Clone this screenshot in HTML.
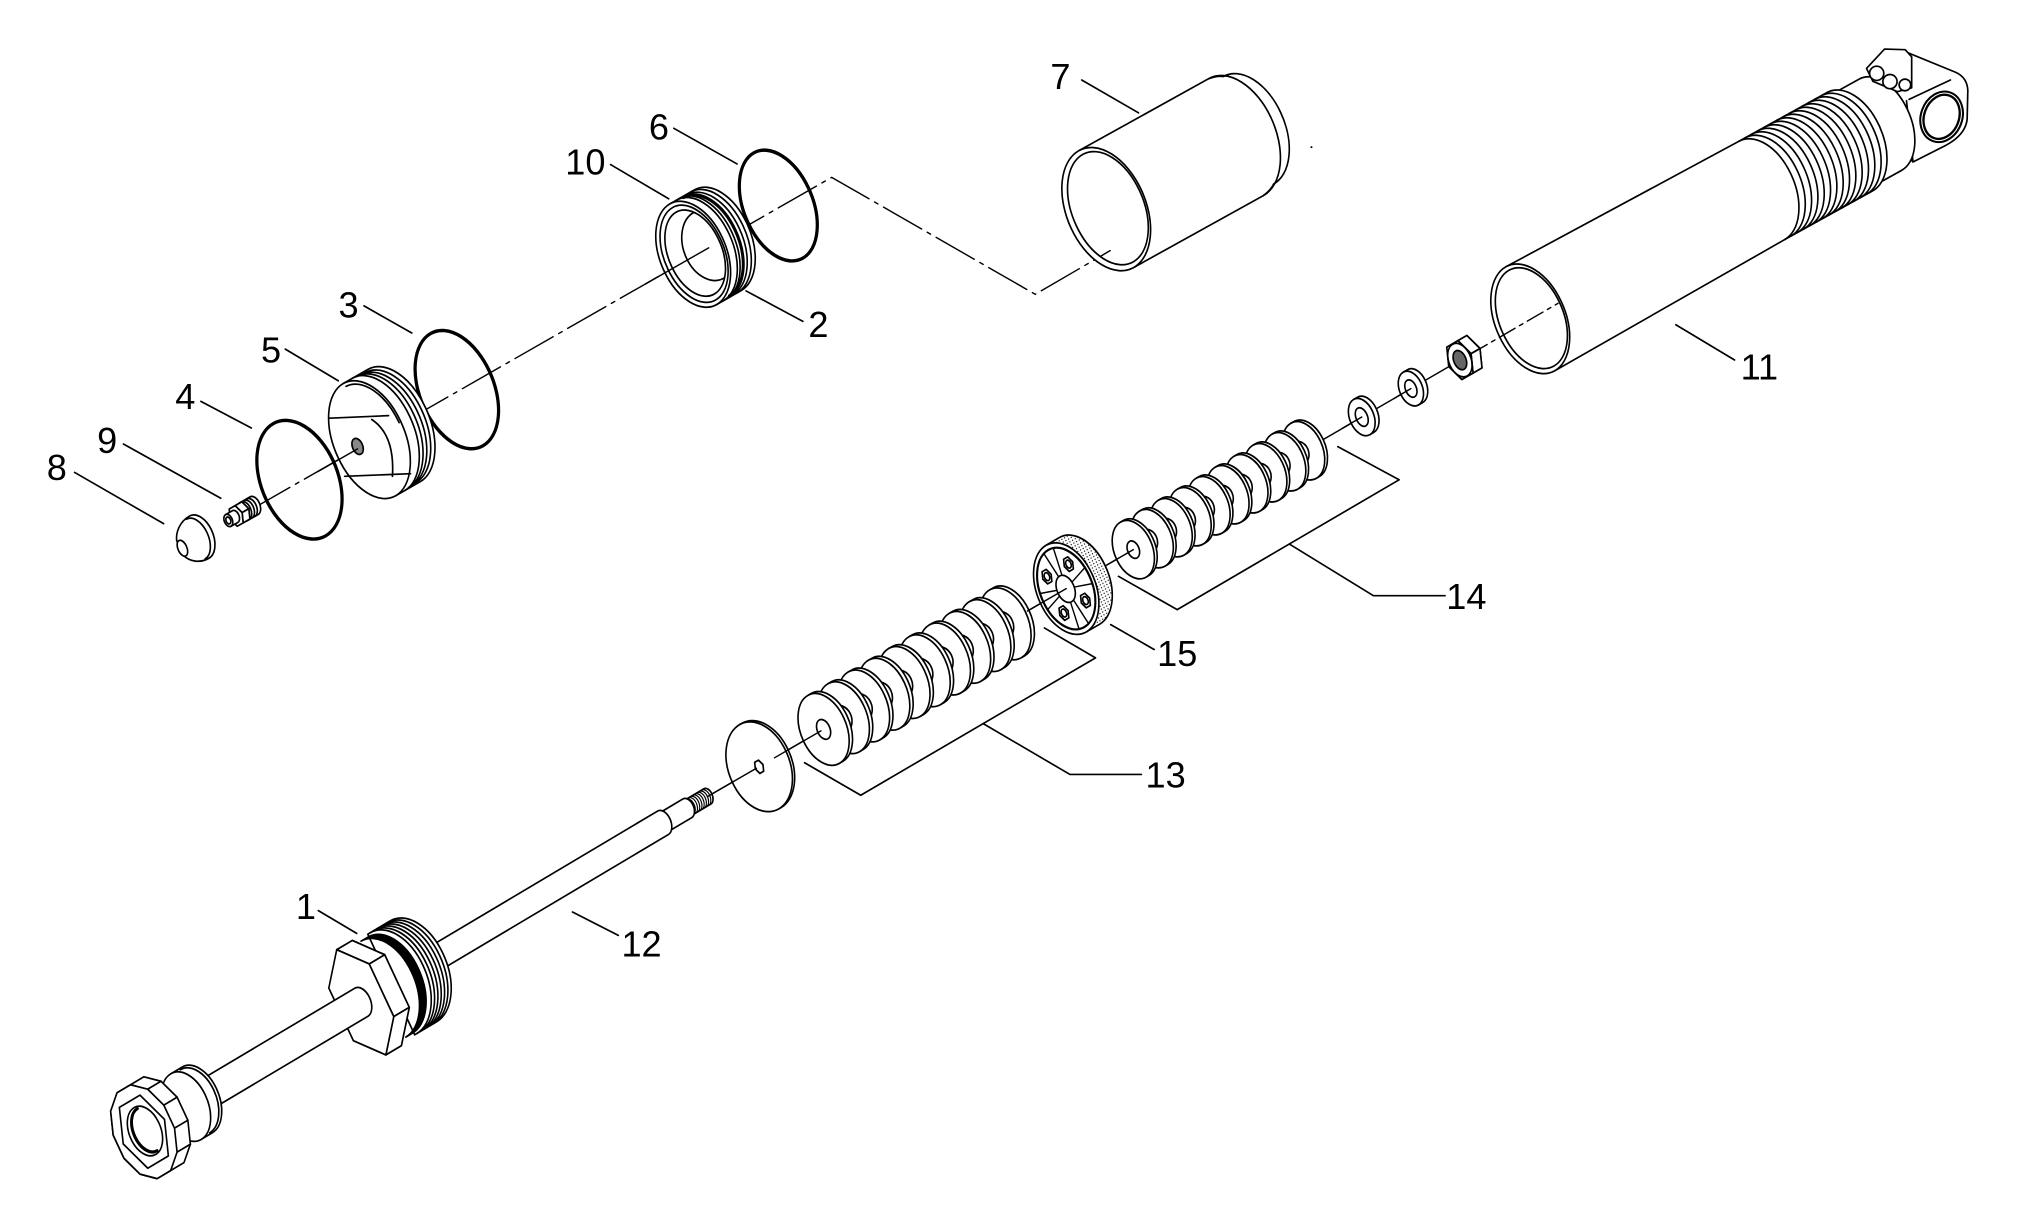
<!DOCTYPE html>
<html><head><meta charset="utf-8"><style>
html,body{margin:0;padding:0;background:#fff;}
svg{display:block;}
text{font-family:"Liberation Sans",Arial,sans-serif;font-size:28px;fill:#000;stroke:none;}
</style></head><body>
<svg width="2024" height="1223" viewBox="0 0 1568 947.5" xmlns="http://www.w3.org/2000/svg">
<defs>
<pattern id="dots" width="2.4" height="2.4" patternUnits="userSpaceOnUse"><rect width="2.4" height="2.4" fill="#fff"/><circle cx="1.2" cy="1.2" r="0.5" fill="#000"/></pattern>
</defs>
<rect width="1568" height="947.5" fill="#fff"/>
<g fill="none" stroke="#000" stroke-width="1.3" stroke-linejoin="round" stroke-linecap="round">

<!-- axis lines -->
<path d="M195,394.5 L644.3,137.4 L802,228 L851,199.5" stroke-width="1.1" stroke-dasharray="34 5 3 5"/>
<path d="M548,617.2 L1131,279.1" stroke-width="1.1"/>

<!-- ===== UPPER ASSEMBLY ===== -->
<g transform="matrix(0.8678,-0.4969,0.423,0.906,537,197)">
  <ellipse cx="76" cy="0" rx="27" ry="45" stroke-width="2.6"/>
  <path d="M0,-43 L22,-43 A26,43 0 0 1 22,43 L0,43 Z" fill="#fff"/>
  <path d="M6,-43 A26,43 0 0 1 6,43 M8.5,-43 A26,43 0 0 1 8.5,43 M15,-42.5 A26,42.5 0 0 1 15,42.5 M18.5,-43 A26,43 0 0 1 18.5,43"/>
  <path d="M12,-42 A25.5,42 0 0 1 12,42" stroke-width="2.4"/>
  <ellipse cx="0" cy="0" rx="26" ry="43" fill="#fff"/>
  <ellipse cx="0.8" cy="0" rx="23.5" ry="39.5"/>
  <ellipse cx="1.8" cy="0" rx="21" ry="35" fill="#fff"/>
  <path d="M14,-28 A20,28 0 0 0 14,28"/>
  <ellipse cx="-211" cy="0" rx="29" ry="48" stroke-width="2.6"/>
  <path d="M-289,-48 L-267,-48 A28,48 0 0 1 -267,48 L-289,48 Z" fill="#fff"/>
  <path d="M-281,-48 A28,48 0 0 1 -281,48 M-277.5,-47.5 A28,47.5 0 0 1 -277.5,47.5 M-274,-47 A28,47 0 0 1 -274,47 M-270.5,-47 A28,47 0 0 1 -270.5,47"/>
  <ellipse cx="-289" cy="0" rx="28" ry="48" fill="#fff"/>
  <path d="M-288,-45 A26,45 0 0 1 -262.5,0"/>
  <ellipse cx="-299.6" cy="0" rx="4" ry="6.5" fill="#888"/>
  <ellipse cx="-351.5" cy="0" rx="30" ry="48" stroke-width="2.6"/>
  <path d="M-402,-7.5 L-392,-7.5 A4.6,7.5 0 0 1 -392,7.5 L-402,7.5 Z" fill="#fff"/>
  <path d="M-400,-7.5 A4.6,7.5 0 0 1 -400,7.5 M-397.5,-7.5 A4.6,7.5 0 0 1 -397.5,7.5 M-395,-7.5 A4.6,7.5 0 0 1 -395,7.5"/>
  <polygon points="-396.7,0 -399.35,7.36 -404.65,7.36 -407.3,0 -404.65,-7.36 -399.35,-7.36" fill="#fff"/>
  <polygon points="-405.35,-7.36 -402.7,0 -396.7,0 -399.35,-7.36" fill="#fff"/>
  <polygon points="-402.7,0 -405.35,7.36 -399.35,7.36 -396.7,0" fill="#fff"/>
  <polygon points="-402.7,0 -405.35,7.36 -410.65,7.36 -413.3,0 -410.65,-7.36 -405.35,-7.36" fill="#fff"/>
  <path d="M-415,-5 L-409,-5 A3.2,5 0 0 1 -409,5 L-415,5 Z" fill="#fff"/>
  <ellipse cx="-415" cy="0" rx="3.2" ry="5" fill="#fff"/>
  <ellipse cx="-415" cy="0" rx="1.8" ry="2.8"/>
  <path d="M-441,-18 C-450,-18 -456,-12 -458,-6.5 L-458,6.5 C-456,12 -450,18 -441,18 A11,18 0 0 0 -441,-18 Z" fill="#fff"/>
  <path d="M-444,-17 A10,17 0 0 1 -444,17"/>
  <ellipse cx="-456.5" cy="1" rx="3.5" ry="6.5" fill="#fff"/>
</g>
<path d="M255,324 L301,322 M267,369 L318,367 M288,325 Q306,337 304,369"/>
<path d="M246,365.5 L277,347.8" stroke-width="1.1"/>
<path d="M500,220 L549,192" stroke-width="1.1"/>

<!-- ===== TUBE 7 ===== -->
<g transform="matrix(0.8746,-0.4848,0.423,0.906,857,162)">
  <path d="M0,-50 L115,-50 Q122,-49 126,-46 A28.5,46 0 0 1 126,46 Q122,49 115,50 L0,50 Z" fill="#fff"/>
  <path d="M115,-50 A31,50 0 0 1 115,50"/>
  <ellipse cx="0" cy="0" rx="31" ry="50" fill="#fff"/>
  <ellipse cx="1.5" cy="0" rx="28" ry="46" fill="#fff"/>
</g>
<path d="M853,198.3 L860,194.2" stroke-width="1.1"/>
<circle cx="1016" cy="114" r="0.8" fill="#000" stroke="none"/>

<!-- ===== TUBE 11 ===== -->
<path d="M1476,40 L1515,56 Q1524,60 1524.5,70 L1524,92 Q1523,104 1508,112.3 L1482,125.5 L1468,110 L1462,58 Z" fill="#fff"/>
<path d="M1479,77 L1511,62 M1477,78 L1482,125"/>
<ellipse cx="1504.2" cy="90.5" rx="16" ry="20" transform="rotate(20 1504.2 90.5)" fill="#fff" stroke-width="1.6"/>
<ellipse cx="1504.2" cy="90.5" rx="13.5" ry="17.5" transform="rotate(20 1504.2 90.5)" stroke-width="1.8"/>
<g transform="matrix(0.8746,-0.4848,0.423,0.906,1185.5,247)">
  <path d="M280,-39 L310,-39 A24.2,39 0 0 1 310,39 L280,39 Z" fill="#fff"/>
  <path d="M204,-42 L283,-42 A26,42 0 0 1 283,42 L204,42 Z" fill="#fff" stroke="none"/>
  <path d="M205,-42 L283,-42 A26,42 0 0 1 283,42 L205,42"/>
  <path d="M205,-42 A26,42 0 0 1 205,42 M210.6,-42 A26,42 0 0 1 210.6,42 M216.2,-42 A26,42 0 0 1 216.2,42 M221.8,-42 A26,42 0 0 1 221.8,42 M227.4,-42 A26,42 0 0 1 227.4,42 M233,-42 A26,42 0 0 1 233,42 M238.6,-42 A26,42 0 0 1 238.6,42 M244.2,-42 A26,42 0 0 1 244.2,42 M249.8,-42 A26,42 0 0 1 249.8,42 M255.4,-42 A26,42 0 0 1 255.4,42 M261,-42 A26,42 0 0 1 261,42 M266.6,-42 A26,42 0 0 1 266.6,42 M272.2,-42 A26,42 0 0 1 272.2,42 M277.8,-42 A26,42 0 0 1 277.8,42"/>
  <path d="M0,-44.5 L205,-42 L205,42 L0,44.5 Z" fill="#fff" stroke="none"/>
  <path d="M0,-44.5 L205,-42 M0,44.5 L205,42"/>
  <ellipse cx="0" cy="0" rx="27.5" ry="44.5" fill="#fff"/>
  <ellipse cx="1" cy="0" rx="25" ry="41" fill="#fff"/>
</g>
<polygon points="1446,53 1460,38 1476,38.5 1481,44 1481,68 1470,71 1451,63" fill="#fff"/>
<circle cx="1453.9" cy="56.8" r="5.5" fill="#fff"/>
<circle cx="1464.2" cy="63.2" r="5.5" fill="#fff"/>
<circle cx="1475.8" cy="65.8" r="4.5" fill="#fff"/>

<!-- ===== LOWER ASSEMBLY ===== -->
<g transform="matrix(0.865,-0.502,0.423,0.906,826,456)">
  <polygon points="370.6,0 365.6,13.86 355.6,13.86 350.6,0 355.6,-13.86 365.6,-13.86" fill="#fff"/>
  <polygon points="357.6,-13.86 362.6,0 370.6,0 365.6,-13.86" fill="#fff"/>
  <polygon points="362.6,0 357.6,13.86 365.6,13.86 370.6,0" fill="#fff"/>
  <polygon points="362.6,0 357.6,13.86 347.6,13.86 342.6,0 347.6,-13.86 357.6,-13.86" fill="#fff"/>
  <ellipse cx="352.6" cy="0" rx="8.7" ry="13.5"/>
  <ellipse cx="352.6" cy="0" rx="4.8" ry="7.8" fill="#666"/>
  <path d="M308.7,-14 L312.5,-14 A9,14 0 0 1 312.5,14 L308.7,14 Z" fill="#fff"/>
  <ellipse cx="308.7" cy="0" rx="9" ry="14" fill="#fff"/>
  <ellipse cx="308.7" cy="0" rx="4.3" ry="7" fill="#fff"/>
  <path d="M264.7,-15 L268.2,-15 A9.5,15 0 0 1 268.2,15 L264.7,15 Z" fill="#fff"/>
  <ellipse cx="264.7" cy="0" rx="9.5" ry="15" fill="#fff"/>
  <ellipse cx="264.7" cy="0" rx="4.5" ry="7.5" fill="#fff"/>
  <path d="M212.65,-23.5 L215.15,-23.5 A15,23.5 0 0 1 215.15,23.5 L212.65,23.5 Z" fill="#fff"/><ellipse cx="212.65" rx="15" ry="23.5" fill="#fff"/>
  <ellipse cx="207.2" rx="9" ry="10" fill="#fff"/>
  <path d="M195.7,-23.5 L198.2,-23.5 A15,23.5 0 0 1 198.2,23.5 L195.7,23.5 Z" fill="#fff"/><ellipse cx="195.7" rx="15" ry="23.5" fill="#fff"/>
  <ellipse cx="190.25" rx="9" ry="10" fill="#fff"/>
  <path d="M178.75,-23.5 L181.25,-23.5 A15,23.5 0 0 1 181.25,23.5 L178.75,23.5 Z" fill="#fff"/><ellipse cx="178.75" rx="15" ry="23.5" fill="#fff"/>
  <ellipse cx="173.3" rx="9" ry="10" fill="#fff"/>
  <path d="M161.8,-23.5 L164.3,-23.5 A15,23.5 0 0 1 164.3,23.5 L161.8,23.5 Z" fill="#fff"/><ellipse cx="161.8" rx="15" ry="23.5" fill="#fff"/>
  <ellipse cx="156.35" rx="9" ry="10" fill="#fff"/>
  <path d="M144.85,-23.5 L147.35,-23.5 A15,23.5 0 0 1 147.35,23.5 L144.85,23.5 Z" fill="#fff"/><ellipse cx="144.85" rx="15" ry="23.5" fill="#fff"/>
  <ellipse cx="139.4" rx="9" ry="10" fill="#fff"/>
  <path d="M127.9,-23.5 L130.4,-23.5 A15,23.5 0 0 1 130.4,23.5 L127.9,23.5 Z" fill="#fff"/><ellipse cx="127.9" rx="15" ry="23.5" fill="#fff"/>
  <ellipse cx="122.45" rx="9" ry="10" fill="#fff"/>
  <path d="M110.95,-23.5 L113.45,-23.5 A15,23.5 0 0 1 113.45,23.5 L110.95,23.5 Z" fill="#fff"/><ellipse cx="110.95" rx="15" ry="23.5" fill="#fff"/>
  <ellipse cx="105.5" rx="9" ry="10" fill="#fff"/>
  <path d="M94,-23.5 L96.5,-23.5 A15,23.5 0 0 1 96.5,23.5 L94,23.5 Z" fill="#fff"/><ellipse cx="94" rx="15" ry="23.5" fill="#fff"/>
  <ellipse cx="88.55" rx="9" ry="10" fill="#fff"/>
  <path d="M77.05,-23.5 L79.55,-23.5 A15,23.5 0 0 1 79.55,23.5 L77.05,23.5 Z" fill="#fff"/><ellipse cx="77.05" rx="15" ry="23.5" fill="#fff"/>
  <ellipse cx="71.6" rx="9" ry="10" fill="#fff"/>
  <path d="M60.1,-23.5 L62.6,-23.5 A15,23.5 0 0 1 62.6,23.5 L60.1,23.5 Z" fill="#fff"/><ellipse cx="60.1" rx="15" ry="23.5" fill="#fff"/>
  <ellipse cx="60.1" rx="4.5" ry="7" fill="#fff"/>
  <path d="M0,-37 L12,-37 A23,37 0 0 1 12,37 L0,37 Z" fill="url(#dots)"/>
  <ellipse cx="0" cy="0" rx="23" ry="37" fill="#fff"/>
  <ellipse cx="0" cy="0" rx="20.5" ry="33" stroke-width="1.7"/>
  <path d="M6.67,2.29 L20,6.86 M6.67,-2.29 L20,-6.86 M1.42,10.76 L4.25,32.3 M-1.42,10.76 L-4.25,32.3 M-6.67,2.29 L-20,6.86 M-6.67,-2.29 L-20,-6.86 M1.42,-10.76 L4.25,-32.3 M-1.42,-10.76 L-4.25,-32.3" stroke-width="1.1"/>
  <polygon points="13.36,15.56 11.5,20.76 7.78,20.76 5.92,15.56 7.78,10.36 11.5,10.36" fill="#fff"/>
  <polygon points="-5.92,15.56 -7.78,20.76 -11.5,20.76 -13.36,15.56 -11.5,10.36 -7.78,10.36" fill="#fff"/>
  <polygon points="-5.92,-15.56 -7.78,-10.36 -11.5,-10.36 -13.36,-15.56 -11.5,-20.76 -7.78,-20.76" fill="#fff"/>
  <polygon points="13.36,-15.56 11.5,-10.36 7.78,-10.36 5.92,-15.56 7.78,-20.76 11.5,-20.76" fill="#fff"/>
  <ellipse cx="9.64" cy="15.56" rx="2" ry="3.2"/>
  <ellipse cx="-9.64" cy="15.56" rx="2" ry="3.2"/>
  <ellipse cx="-9.64" cy="-15.56" rx="2" ry="3.2"/>
  <ellipse cx="9.64" cy="-15.56" rx="2" ry="3.2"/>
  <ellipse cx="-0.5" cy="0" rx="6.8" ry="11" fill="#fff"/>
  <path d="M-54.4,-29 L-51.4,-29 A18,29 0 0 1 -51.4,29 L-54.4,29 Z" fill="#fff"/><ellipse cx="-54.4" rx="18" ry="29" fill="#fff"/>
  <ellipse cx="-59.5" rx="11" ry="12" fill="#fff"/>
  <path d="M-72.5,-29 L-69.5,-29 A18,29 0 0 1 -69.5,29 L-72.5,29 Z" fill="#fff"/><ellipse cx="-72.5" rx="18" ry="29" fill="#fff"/>
  <ellipse cx="-77.6" rx="11" ry="12" fill="#fff"/>
  <path d="M-90.6,-29 L-87.6,-29 A18,29 0 0 1 -87.6,29 L-90.6,29 Z" fill="#fff"/><ellipse cx="-90.6" rx="18" ry="29" fill="#fff"/>
  <ellipse cx="-95.7" rx="11" ry="12" fill="#fff"/>
  <path d="M-108.7,-29 L-105.7,-29 A18,29 0 0 1 -105.7,29 L-108.7,29 Z" fill="#fff"/><ellipse cx="-108.7" rx="18" ry="29" fill="#fff"/>
  <ellipse cx="-113.8" rx="11" ry="12" fill="#fff"/>
  <path d="M-126.8,-29 L-123.8,-29 A18,29 0 0 1 -123.8,29 L-126.8,29 Z" fill="#fff"/><ellipse cx="-126.8" rx="18" ry="29" fill="#fff"/>
  <ellipse cx="-131.9" rx="11" ry="12" fill="#fff"/>
  <path d="M-144.9,-29 L-141.9,-29 A18,29 0 0 1 -141.9,29 L-144.9,29 Z" fill="#fff"/><ellipse cx="-144.9" rx="18" ry="29" fill="#fff"/>
  <ellipse cx="-150" rx="11" ry="12" fill="#fff"/>
  <path d="M-163,-29 L-160,-29 A18,29 0 0 1 -160,29 L-163,29 Z" fill="#fff"/><ellipse cx="-163" rx="18" ry="29" fill="#fff"/>
  <ellipse cx="-168.1" rx="11" ry="12" fill="#fff"/>
  <path d="M-181.1,-29 L-178.1,-29 A18,29 0 0 1 -178.1,29 L-181.1,29 Z" fill="#fff"/><ellipse cx="-181.1" rx="18" ry="29" fill="#fff"/>
  <ellipse cx="-186.2" rx="11" ry="12" fill="#fff"/>
  <path d="M-199.2,-29 L-196.2,-29 A18,29 0 0 1 -196.2,29 L-199.2,29 Z" fill="#fff"/><ellipse cx="-199.2" rx="18" ry="29" fill="#fff"/>
  <ellipse cx="-204.3" rx="11" ry="12" fill="#fff"/>
  <path d="M-217.3,-29 L-214.3,-29 A18,29 0 0 1 -214.3,29 L-217.3,29 Z" fill="#fff"/><ellipse cx="-217.3" rx="18" ry="29" fill="#fff"/>
  <ellipse cx="-217.3" rx="5" ry="8" fill="#fff"/>
  <path d="M-275,-36 L-273,-36 A24,36 0 0 1 -273,36 L-275,36 Z" fill="#fff"/>
  <ellipse cx="-275" cy="0" rx="24" ry="36" fill="#fff"/>
  <polygon points="-271.6,0 -273.3,4.76 -276.7,4.76 -278.4,0 -276.7,-4.76 -273.3,-4.76" fill="#fff"/>
</g>

<!-- ===== ROD 12 + PART 1 + EYE ===== -->
<g transform="matrix(0.8594,-0.5113,0.423,0.906,548,617)">
  <path d="M-18,-6.5 L0,-6.5 A4,6.5 0 0 1 0,6.5 L-18,6.5 Z" fill="#fff"/>
  <path d="M-16,-6.5 A4,6.5 0 0 1 -16,6.5 M-14,-6.5 A4,6.5 0 0 1 -14,6.5 M-12,-6.5 A4,6.5 0 0 1 -12,6.5 M-10,-6.5 A4,6.5 0 0 1 -10,6.5 M-8,-6.5 A4,6.5 0 0 1 -8,6.5 M-6,-6.5 A4,6.5 0 0 1 -6,6.5 M-4,-6.5 A4,6.5 0 0 1 -4,6.5 M-2,-6.5 A4,6.5 0 0 1 -2,6.5" stroke-width="0.9"/>
  <path d="M-40,-8 L-18,-8 A5,8 0 0 1 -18,8 L-40,8 Z" fill="#fff"/>
  <path d="M-270,-10 L-40,-10 A6.2,10 0 0 1 -40,10 L-270,10 Z" fill="#fff"/>
  <path d="M-285,-43 L-265,-43 A26.7,43 0 0 1 -265,43 L-285,43 Z" fill="#fff"/>
  <path d="M-283,-43 A26.7,43 0 0 1 -283,43 M-280,-43 A26.7,43 0 0 1 -280,43 M-277,-43 A26.7,43 0 0 1 -277,43 M-274,-43 A26.7,43 0 0 1 -274,43 M-271,-43 A26.7,43 0 0 1 -271,43 M-268,-43 A26.7,43 0 0 1 -268,43"/>
  <path d="M-292,-41 A25.4,41 0 0 1 -292,41 L-286,41 A25.4,41 0 0 0 -286,-41 Z" fill="#000"/>
  <polygon points="-279.8,22.5 -298,45 -316.2,22.5 -316.2,-22.5 -298,-45 -279.8,-22.5" fill="#fff"/>
  <polygon points="-312,-45 -293.8,-22.5 -279.8,-22.5 -298,-45" fill="#fff"/>
  <polygon points="-293.8,-22.5 -293.8,22.5 -279.8,22.5 -279.8,-22.5" fill="#fff"/>
  <polygon points="-293.8,22.5 -312,45 -298,45 -279.8,22.5" fill="#fff"/>
  <polygon points="-293.8,22.5 -312,45 -330.2,22.5 -330.2,-22.5 -312,-45 -293.8,-22.5" fill="#fff"/>
  <path d="M-490,-12 L-312,-12 A7.4,12 0 0 1 -312,12 L-490,12 Z" fill="#fff"/>
  <path d="M-470,-28 L-460,-28 A17.4,28 0 0 1 -460,28 L-470,28 Z" fill="#fff"/>
  <path d="M-462,-27 A17,27 0 0 1 -462,27"/>
  <ellipse cx="-470" cy="0" rx="17.4" ry="28" fill="#fff"/>
  <polygon points="-514.1,-36.7 -489.9,-36.7 -479.3,-26.9 -473.2,-9.84 -473.2,9.84 -479.3,26.9 -489.9,36.7 -514.1,36.7 -524.7,26.9 -530.8,9.84 -530.8,-9.84 -524.7,-26.9" fill="#fff"/>
  <path d="M-491.3,-26.9 L-479.3,-26.9 M-485.2,-9.84 L-473.2,-9.84 M-485.2,9.84 L-473.2,9.84 M-491.3,26.9 L-479.3,26.9"/>
  <polygon points="-485.2,9.84 -491.3,26.9 -501.9,36.7 -514.1,36.7 -524.7,26.9 -530.8,9.84 -530.8,-9.84 -524.7,-26.9 -514.1,-36.7 -501.9,-36.7 -491.3,-26.9 -485.2,-9.84" fill="#fff"/>
  <polygon points="-489.4,0 -498.7,26 -517.3,26 -526.6,0 -517.3,-26 -498.7,-26" fill="#fff"/>
  <ellipse cx="-507" cy="0" rx="12.5" ry="20" fill="#fff"/>
  <path d="M-505,-18 A11,18 0 0 0 -505,18" stroke-width="2.4"/>
</g>

<path d="M548,617.2 L586,595.2 M600,587.1 L636,566.2 M796,473.4 L826,456 M858,437.4 L878,425.8 M1040,331.8 L1055,323.1 M1080,308.7 L1093,301.1" stroke-width="1.1"/>
<path d="M1140,273.9 L1207,235" stroke-width="1.1" stroke-dasharray="14 4 3 4"/>

<!-- ===== LEADERS & BRACKETS ===== -->
<g stroke-width="1.3">
<path d="M838,62 L882,87.4"/>
<path d="M522,99.4 L571,127"/>
<path d="M473,127.5 L518,154"/>
<path d="M578,225.4 L622,249"/>
<path d="M282,237 L319,258"/>
<path d="M221,270.5 L262,295"/>
<path d="M155.6,311 L194.7,331.6"/>
<path d="M95.6,344 L171,386"/>
<path d="M57.8,366 L126.7,405.7"/>
<path d="M1298.3,251.6 L1343.8,278.9"/>
<path d="M246.6,705.5 L276.3,723.1"/>
<path d="M443.5,706.6 L479,724.7"/>
<path d="M860.5,483.9 L894.1,503.2"/>
<path d="M623.3,590.9 L666.8,616.1 L848.7,509.7 L809.1,486.5"/>
<path d="M761.7,560.6 L828.9,600 L884.2,600"/>
<path d="M866.5,446.5 L912,472.3 L1083.9,371.7 L1036.4,346"/>
<path d="M998.9,421.5 L1064,461.5 L1119.5,461.5"/>
</g>
</g>

<g text-anchor="middle">
<text x="821.5" y="69">7</text>
<text x="510.5" y="108">6</text>
<text x="453.5" y="135">10</text>
<text x="634" y="261">2</text>
<text x="270" y="246">3</text>
<text x="210" y="281">5</text>
<text x="143.5" y="317">4</text>
<text x="83" y="351">9</text>
<text x="44" y="372">8</text>
<text x="1363" y="294">11</text>
<text x="1136" y="472">14</text>
<text x="912" y="516">15</text>
<text x="903" y="610">13</text>
<text x="497" y="741">12</text>
<text x="237" y="712">1</text>
</g>
</svg>
</body></html>
